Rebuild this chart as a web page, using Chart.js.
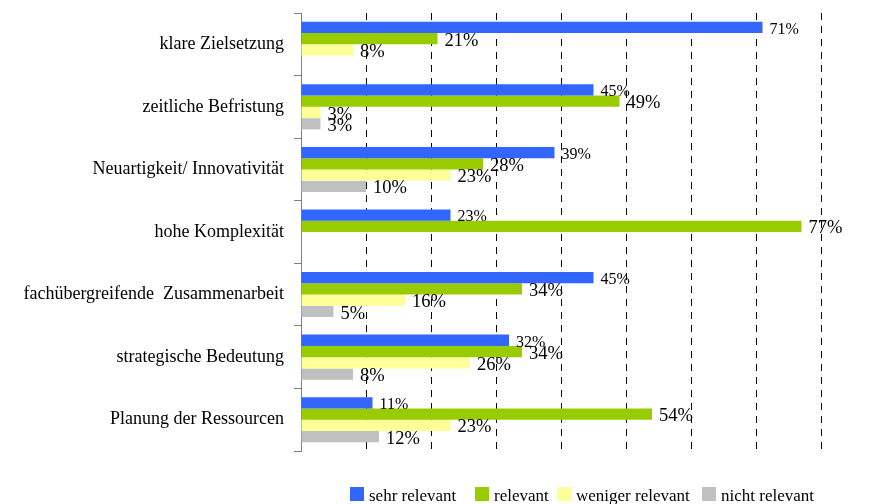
<!DOCTYPE html>
<html>
<head>
<meta charset="utf-8">
<script src="https://cdn.jsdelivr.net/npm/chart.js@4/dist/chart.umd.min.js"></script>
<style>
  html, body { margin: 0; padding: 0; background: #fff; }
  #wrap { width: 879px; height: 504px; position: relative; }
</style>
</head>
<body>
<div id="wrap"><canvas id="c" width="879" height="504"></canvas></div>
<script>
const categories = [
  "klare Zielsetzung",
  "zeitliche Befristung",
  "Neuartigkeit/ Innovativität",
  "hohe Komplexität",
  "fachübergreifende  Zusammenarbeit",
  "strategische Bedeutung",
  "Planung der Ressourcen"
];
const seriesNames = ["sehr relevant", "relevant", "weniger relevant", "nicht relevant"];
const sehrRelevant    = [71, 45, 39, 23, 45, 32, 11];
const relevant        = [21, 49, 28, 77, 34, 34, 54];
const wenigerRelevant = [8, 3, 23, 0, 16, 26, 23];
const nichtRelevant   = [0, 3, 10, 0, 5, 8, 12];
const xMin = 0, xMax = 80, xStep = 10;

const colors = ["#3366FF", "#99CC00", "#FFFF99", "#C0C0C0"];
const labelFonts = [16, 18.5, 18.5, 18.5];
const legendBoxX = [350, 475, 557, 702];
const serif = '"Liberation Serif", "DejaVu Serif", serif';

const valueLabels = {
  id: 'valueLabels',
  afterDatasetsDraw(chart) {
    const ctx = chart.ctx;
    ctx.save();
    ctx.fillStyle = '#000';
    ctx.textAlign = 'left';
    ctx.textBaseline = 'alphabetic';
    chart.data.datasets.forEach((ds, di) => {
      const meta = chart.getDatasetMeta(di);
      const size = labelFonts[di];
      ctx.font = size + 'px ' + serif;
      meta.data.forEach((el, i) => {
        const v = ds.data[i];
        if (!v) return;
        ctx.fillText(v + '%', el.x + 7, el.y + 1 + size * 0.33);
      });
    });
    ctx.restore();
  }
};

const customLegend = {
  id: 'customLegend',
  afterDraw(chart) {
    const ctx = chart.ctx;
    ctx.save();
    ctx.font = '17px ' + serif;
    ctx.textBaseline = 'alphabetic';
    ctx.textAlign = 'left';
    const boxY = 487, box = 14, baseline = 501;
    chart.data.datasets.forEach((ds, di) => {
      const x = legendBoxX[di];
      ctx.fillStyle = ds.backgroundColor;
      ctx.fillRect(x, boxY, box, box);
      ctx.fillStyle = '#000';
      ctx.fillText(ds.label, x + box + 5, baseline);
    });
    ctx.restore();
  }
};

const seriesData = [sehrRelevant, relevant, wenigerRelevant, nichtRelevant];

new Chart(document.getElementById('c'), {
  type: 'bar',
  data: {
    labels: categories,
    datasets: seriesNames.map((name, i) => ({
      label: name,
      data: seriesData[i],
      backgroundColor: colors[i],
      borderWidth: 0,
      categoryPercentage: 0.72,
      barPercentage: 1.0
    }))
  },
  options: {
    indexAxis: 'y',
    responsive: false,
    animation: false,
    layout: { padding: { left: 0, right: 58, top: 13, bottom: 53 } },
    plugins: {
      legend: { display: false },
      tooltip: { enabled: false }
    },
    scales: {
      x: {
        type: 'linear',
        min: xMin,
        max: xMax,
        ticks: { display: false, stepSize: xStep },
        border: { display: false, dash: [7, 6] },
        grid: {
          drawTicks: false,
          color: (c) => (c.tick && c.tick.value === 0) ? 'rgba(0,0,0,0)' : '#000',
          lineWidth: 1
        },
        afterFit(scale) { scale.height = 0; scale.paddingLeft = 0; scale.paddingRight = 0; }
      },
      y: {
        type: 'category',
        offset: true,
        ticks: {
          color: '#000',
          font: { family: serif, size: 18 },
          padding: 10
        },
        grid: {
          offset: true,
          drawOnChartArea: false,
          drawTicks: true,
          tickLength: 7,
          color: '#808080'
        },
        border: { display: true, color: '#808080', width: 1 },
        afterFit(scale) { scale.width = 301; scale.paddingTop = 0; scale.paddingBottom = 0; }
      }
    }
  },
  plugins: [valueLabels, customLegend]
});
</script>
</body>
</html>
